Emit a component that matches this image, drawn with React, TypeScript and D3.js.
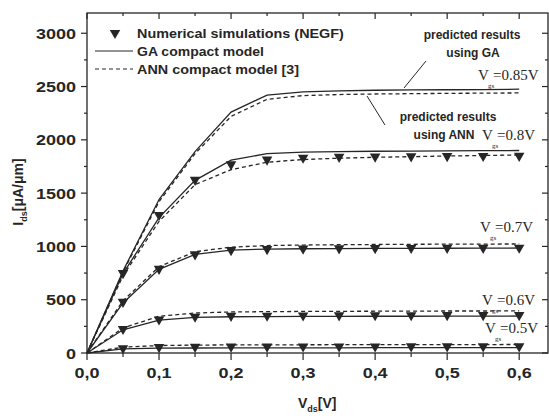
import React from 'react';
import * as d3 from 'd3';

// drain voltage grid (V)
const vds = [0, 0.05, 0.1, 0.15, 0.2, 0.25, 0.3, 0.35, 0.4, 0.45, 0.5, 0.55, 0.6];
const simVds = [0.05, 0.1, 0.15, 0.2, 0.25, 0.3, 0.35, 0.4, 0.45, 0.5, 0.55, 0.6];

// GA compact model (uA/um)
const ga085 = [0, 770, 1440, 1890, 2260, 2420, 2450, 2460, 2465, 2468, 2470, 2472, 2475];
const ga08 = [0, 745, 1270, 1620, 1810, 1870, 1885, 1890, 1893, 1895, 1897, 1898, 1900];
const ga07 = [0, 470, 785, 925, 965, 975, 978, 980, 981, 982, 983, 984, 985];
const ga06 = [0, 218, 308, 335, 340, 342, 343, 344, 345, 345, 346, 346, 347];
const ga05 = [0, 38, 45, 47, 48, 48, 49, 49, 50, 50, 50, 51, 51];

// ANN compact model [3]
const ann085 = [0, 760, 1420, 1870, 2220, 2380, 2415, 2425, 2430, 2433, 2436, 2438, 2440];
const ann08 = [0, 725, 1235, 1580, 1720, 1790, 1815, 1828, 1836, 1842, 1848, 1853, 1858];
const ann07 = [0, 490, 810, 950, 993, 1008, 1013, 1016, 1018, 1020, 1021, 1022, 1023];
const ann06 = [0, 235, 345, 375, 385, 388, 390, 391, 392, 393, 394, 394, 395];
const ann05 = [0, 55, 70, 74, 76, 77, 77, 78, 78, 78, 79, 79, 80];

// numerical simulations (NEGF)
const sim08 = [750, 1295, 1625, 1770, 1815, 1832, 1840, 1843, 1845, 1847, 1848, 1850];
const sim07 = [480, 790, 925, 965, 975, 980, 982, 984, 985, 986, 987, 988];
const sim06 = [225, 315, 340, 348, 350, 352, 353, 354, 354, 355, 355, 355];
const sim05 = [45, 55, 58, 60, 60, 61, 61, 61, 62, 62, 62, 62];

const vgsLabels = ['=0.85V', '=0.8V', '=0.7V', '=0.6V', '=0.5V'];
const xTicks = [0, 0.1, 0.2, 0.3, 0.4, 0.5, 0.6];
const yTicks = [0, 500, 1000, 1500, 2000, 2500, 3000];

const W = 549;
const H = 416;
const left = 87, right = 548, top = 13, bottom = 353;

const x = d3.scaleLinear().domain([0, 0.64]).range([left, right]);
const y = d3.scaleLinear().domain([0, 3190]).range([bottom, top]);

const ink = '#262626';
const sans = '"Liberation Sans", Arial, sans-serif';
const serif = '"Liberation Serif", "Times New Roman", serif';

const line = d3.line<number>().x((_, i) => x(vds[i])).y(d => y(d));
const tri = d3.symbol().type(d3.symbolTriangle).size(48)();

const gaSeries = [ga085, ga08, ga07, ga06, ga05];
const annSeries = [ann085, ann08, ann07, ann06, ann05];
const simSeries = [sim08, sim07, sim06, sim05];

// where the Vgs labels sit: [x of V, baseline]
const labelPos = [[478, 80], [482, 140], [480, 232], [482, 305], [485, 333]];

const fmt = (d: number) => d.toFixed(1).replace('.', ',');

export default function App() {
  const xMinor = d3.range(0, 0.641, 0.05);
  const yMinor = d3.range(0, 3190, 250);
  return (
    <svg width={W} height={H} style={{ display: 'block', position: 'absolute', left: 0, top: 0, background: '#fff' }}>
      <rect x={0} y={0} width={W} height={H} fill="#fff" />
      {/* frame */}
      <rect x={left} y={top} width={right - left} height={bottom - top} fill="none" stroke={ink} strokeWidth={1.3} />

      {/* ticks */}
      {yMinor.map(v => {
        const major = v % 500 === 0;
        const len = major ? 6 : 3;
        return (
          <g key={'yt' + v}>
            <line x1={left - len} x2={left} y1={y(v)} y2={y(v)} stroke={ink} strokeWidth={1.2} />
            <line x1={right - len} x2={right} y1={y(v)} y2={y(v)} stroke={ink} strokeWidth={1.2} />
          </g>
        );
      })}
      {xMinor.map((v, i) => {
        const major = i % 2 === 0;
        return (
          <g key={'xt' + i}>
            <line x1={x(v)} x2={x(v)} y1={bottom} y2={bottom + (major ? 7 : 4)} stroke={ink} strokeWidth={1.2} />
            <line x1={x(v)} x2={x(v)} y1={top} y2={top + (major ? 6 : 3)} stroke={ink} strokeWidth={1.2} />
          </g>
        );
      })}

      {/* tick labels */}
      {yTicks.map(v => (
        <text key={'yl' + v} transform={`translate(76,${y(v) + 5.5}) scale(1.2,1)`} textAnchor="end"
          fontFamily={sans} fontWeight="bold" fontSize={15} fill={ink}>{v}</text>
      ))}
      {xTicks.map(v => (
        <text key={'xl' + v} transform={`translate(${x(v)},${bottom + 25}) scale(1.2,1)`} textAnchor="middle"
          fontFamily={sans} fontWeight="bold" fontSize={15} fill={ink}>{fmt(v)}</text>
      ))}

      {/* axis titles */}
      <text transform="translate(298,408)" fontFamily={sans} fontWeight="bold" fontSize={14} fill={ink}>
        V<tspan fontSize={9} dy={4}>ds</tspan><tspan dy={-4}>[V]</tspan>
      </text>
      <text transform="translate(23,192) rotate(-90)" textAnchor="middle" fontFamily={sans} fontWeight="bold" fontSize={14} fill={ink}>
        I<tspan fontSize={9} dy={4}>ds</tspan><tspan dy={-4}>[μA/μm]</tspan>
      </text>

      {/* model curves */}
      {gaSeries.map((s, k) => (
        <path key={'ga' + k} d={line(s) || ''} fill="none" stroke={ink} strokeWidth={1.3} />
      ))}
      {annSeries.map((s, k) => (
        <path key={'ann' + k} d={line(s) || ''} fill="none" stroke={ink} strokeWidth={1.3} strokeDasharray="4,3" />
      ))}
      {simSeries.map((s, k) =>
        s.map((d, i) => (
          <path key={'s' + k + '-' + i} d={tri || ''} transform={`translate(${x(simVds[i])},${y(d)}) rotate(180)`} fill={ink} />
        ))
      )}

      {/* Vgs labels */}
      {vgsLabels.map((t, k) => (
        <g key={'vg' + k} fontFamily={serif} fill={ink}>
          <text x={labelPos[k][0]} y={labelPos[k][1]} fontSize={15}>V</text>
          <text x={labelPos[k][0] + 10} y={labelPos[k][1] + 8} fontSize={7}>gs</text>
          <text x={labelPos[k][0] + 15} y={labelPos[k][1]} fontSize={15}>{t}</text>
        </g>
      ))}

      {/* annotations */}
      <g fontFamily={sans} fontWeight="bold" fontSize={12} fill={ink} textAnchor="middle">
        <text x={472} y={39}>predicted results</text>
        <text x={473} y={57}>using GA</text>
        <text x={448} y={121}>predicted results</text>
        <text x={444} y={139}>using ANN</text>
      </g>
      <line x1={426} y1={61} x2={404} y2={88} stroke={ink} strokeWidth={1} />
      <line x1={385} y1={125} x2={367} y2={96} stroke={ink} strokeWidth={1} />

      {/* legend */}
      <path d={tri || ''} transform="translate(115,33) rotate(180)" fill={ink} />
      <line x1={95} x2={133} y1={51} y2={51} stroke={ink} strokeWidth={1.2} />
      <line x1={95} x2={133} y1={69} y2={69} stroke={ink} strokeWidth={1.2} strokeDasharray="4,3" />
      <g fontFamily={sans} fontWeight="bold" fontSize={12.5} fill={ink}>
        <text transform="translate(137,38) scale(1.15,1)">Numerical  simulations (NEGF)</text>
        <text transform="translate(137,56) scale(1.12,1)">GA compact  model</text>
        <text transform="translate(137,74) scale(1.15,1)">ANN compact  model [3]</text>
      </g>
    </svg>
  );
}
